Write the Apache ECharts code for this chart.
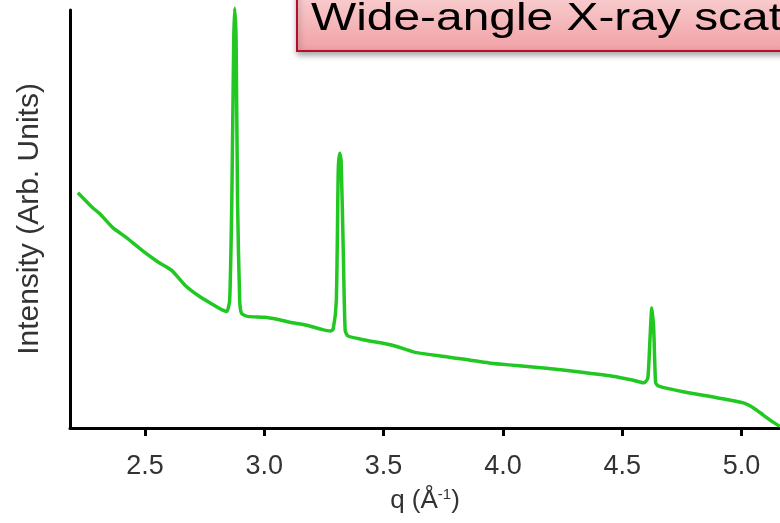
<!DOCTYPE html>
<html>
<head>
<meta charset="utf-8">
<script src="https://cdn.jsdelivr.net/npm/echarts@6/dist/echarts.min.js"></script>
<style>html,body{margin:0;padding:0;background:#fff}#c{width:780px;height:523px}</style>
</head>
<body>
<div id="c"></div>
<script>
// Data (q in Å^-1, intensity in arbitrary units)
const qValues = [2.219,2.281,2.310,2.364,2.421,2.488,2.558,2.612,2.669,2.723,2.777,2.826,2.843,2.855,2.864,2.872,2.876,2.882,2.888,2.897,2.905,2.930,3.000,3.054,3.107,3.178,3.240,3.277,3.289,3.302,3.310,3.316,3.322,3.331,3.339,3.351,3.426,3.537,3.632,3.769,3.950,4.045,4.182,4.322,4.459,4.541,4.591,4.607,4.616,4.624,4.632,4.640,4.653,4.760,4.901,5.008,5.050,5.091,5.132,5.160];
const intensity = [56.3,52.7,51.3,48.0,45.6,42.5,39.6,37.7,34.1,31.7,29.8,28.2,27.9,30.5,54.4,92.6,100.4,92.6,54.4,30.5,27.4,26.7,26.5,26.0,25.3,24.6,23.6,23.2,23.7,30.5,61.6,65.7,64.0,42.5,23.4,22.0,21.0,19.8,18.1,17.0,15.5,15.0,14.3,13.4,12.4,11.5,10.8,11.9,21.0,28.7,23.4,10.8,10.0,8.6,7.2,6.0,4.8,3.1,1.4,0.4];
const xTicks = [2.5, 3.0, 3.5, 4.0, 4.5, 5.0];
const xTickLabels = ['2.5', '3.0', '3.5', '4.0', '4.5', '5.0'];
const titleText = 'Wide-angle X-ray scattering';
const yName = 'Intensity (Arb. Units)';

const seriesData = qValues.map((q, i) => [q, intensity[i]]);
const FONT = '"Liberation Sans", Arial, Helvetica, sans-serif';

const chart = echarts.init(document.getElementById('c'), null, {renderer: 'canvas'});
chart.setOption({
  animation: false,
  backgroundColor: '#ffffff',
  grid: {left: 70, right: -10, top: 10, bottom: 95, containLabel: false},
  xAxis: {
    type: 'value',
    min: 2.186,
    max: 5.161,
    name: '{a|q (Å}{s|-1}{a|)}',
    nameLocation: 'middle',
    nameGap: 59,
    nameTextStyle: {
      rich: {
        a: {fontSize: 26, color: '#333', fontFamily: FONT},
        s: {fontSize: 15, color: '#333', fontFamily: FONT, verticalAlign: 'top', padding: [0, 0, 12, 0]}
      }
    },
    axisLine: {show: true, lineStyle: {color: '#000', width: 3}},
    axisTick: {show: true, inside: false, length: 8, lineStyle: {color: '#000', width: 3}, customValues: xTicks},
    axisLabel: {
      show: true, color: '#333', fontSize: 27, fontFamily: FONT, margin: 25,
      customValues: xTicks,
      formatter: function (v) { const i = xTicks.findIndex(t => Math.abs(t - v) < 1e-6); return i >= 0 ? xTickLabels[i] : ''; }
    },
    splitLine: {show: false}
  },
  yAxis: {
    type: 'value',
    min: 0,
    max: 100,
    name: yName,
    nameLocation: 'middle',
    nameGap: 25,
    nameTextStyle: {fontSize: 30, color: '#333', fontFamily: FONT},
    axisLine: {show: true, lineStyle: {color: '#000', width: 3}},
    axisTick: {show: false},
    axisLabel: {show: false},
    splitLine: {show: false}
  },
  series: [{
    type: 'line',
    data: seriesData,
    showSymbol: false,
    clip: false,
    smooth: 0.2,
    lineStyle: {color: '#22c822', width: 3.5},
    itemStyle: {color: '#22c822'}
  }],
  graphic: [{
    type: 'group',
    left: 296, top: -20,
    children: [{
      type: 'rect',
      shape: {x: 0, y: 0, width: 520, height: 70},
      style: {
        fill: new echarts.graphic.LinearGradient(0, 0, 0, 1, [
          {offset: 0, color: '#fbdadb'},
          {offset: 1, color: '#f0a0a4'}
        ]),
        stroke: '#b0102c', lineWidth: 2,
        shadowBlur: 6, shadowColor: 'rgba(0,0,0,0.35)', shadowOffsetY: 3, shadowOffsetX: 1
      }
    }, {
      type: 'text',
      x: 14, y: 39,
      scaleX: 1.26,
      style: {text: titleText, fontSize: 38, fontFamily: FONT, fill: '#000', textVerticalAlign: 'middle'}
    }]
  }]
});
</script>
</body>
</html>
